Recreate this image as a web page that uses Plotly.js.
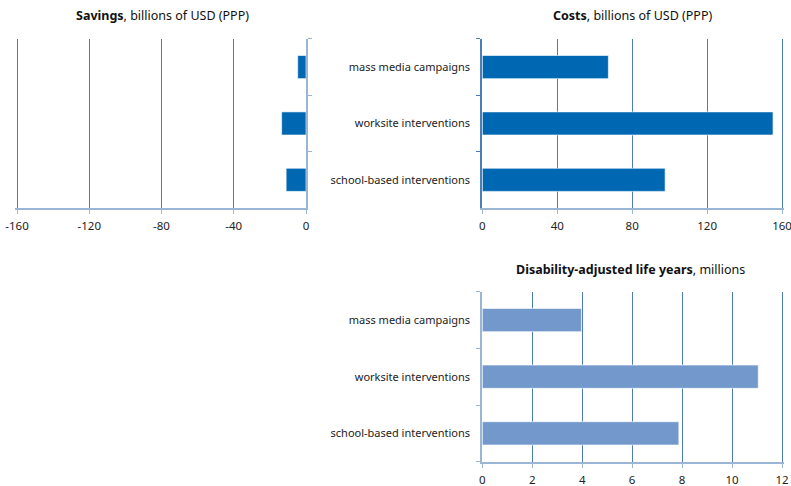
<!DOCTYPE html>
<html>
<head>
<meta charset="utf-8">
<script src="https://cdn.plot.ly/plotly-3.0.1.min.js"></script>
<style>html,body{margin:0;padding:0;background:#fff;}#chart{width:791px;height:486px;}</style>
</head>
<body>
<div id="chart"></div>
<script>
const categories = ["school-based interventions", "worksite interventions", "mass media campaigns"];
const savings = [-11, -13.5, -4.6];
const costs = [97.6, 155.2, 67.3];
const dalys = [7.87, 11.05, 3.97];
const savingsTicks = [-160, -120, -80, -40, 0];
const costsTicks = [0, 40, 80, 120, 160];
const dalyTicks = [0, 2, 4, 6, 8, 10, 12];

const FONT = "Noto Sans, Open Sans, sans-serif";
const gridC = "#4d7db8";
const axisC = "#9ab6d4";
const barDark = "#0068b3";
const barLight = "#7399cc";
const W = 791, H = 486, PADPX = 2;

function bar(x, xa, ya, color) {
  return {type: "bar", orientation: "h", y: categories, x: x, xaxis: xa, yaxis: ya,
    marker: {color: color, line: {color: "rgba(255,255,255,0.6)", width: 1}},
    hoverinfo: "x+y", showlegend: false};
}
const data = [
  bar(savings, "x", "y", barDark),
  bar(costs, "x2", "y2", barDark),
  bar(dalys, "x3", "y3", barLight)
];

// p0/p1: pixel positions of the first/last tick; pad only the end away from zero
function xax(p0, p1, ticks, anchor) {
  const r0 = ticks[0], r1 = ticks[ticks.length - 1];
  const u = (r1 - r0) / (p1 - p0);
  const padL = r0 !== 0 ? PADPX : 0, padR = r1 !== 0 ? PADPX : 0;
  return {domain: [(p0 - padL) / W, (p1 + padR) / W], range: [r0 - padL * u, r1 + padR * u],
    tickvals: ticks, ticktext: ticks.map(String),
    showgrid: true, gridcolor: gridC, gridwidth: 1, zeroline: false,
    showline: true, linecolor: axisC, linewidth: 2, ticks: "outside", ticklen: 4, tickcolor: axisC,
    ticklabelstandoff: 2, ticklabeloverflow: "allow",
    tickfont: {family: FONT, size: 11.5, color: "#222"}, anchor: anchor, fixedrange: true};
}
function yax(domain, anchor, side, showLabels, lineC) {
  return {domain: domain, type: "category", categoryarray: categories, categoryorder: "array",
    side: side, anchor: anchor, showticklabels: showLabels, tickson: "boundaries",
    ticks: "outside", ticklen: 4, tickcolor: lineC, showline: true, linecolor: lineC, linewidth: 2,
    showgrid: false, zeroline: false, ticklabelstandoff: 8,
    tickfont: {family: FONT, size: 11, color: "#222"}, fixedrange: true};
}

const layout = {
  width: W, height: H,
  margin: {l: 0, r: 0, t: 0, b: 0},
  paper_bgcolor: "#fff", plot_bgcolor: "#fff",
  bargap: 0.59,
  font: {family: FONT, color: "#222"},
  xaxis: xax(17, 306, savingsTicks, "y"),
  yaxis: yax([0.572, 0.92], "x", "right", false, axisC),
  xaxis2: xax(482.3, 782, costsTicks, "y2"),
  yaxis2: yax([0.572, 0.92], "x2", "left", true, gridC),
  xaxis3: xax(482.3, 782, dalyTicks, "y3"),
  yaxis3: yax([0.05, 0.3998], "x3", "left", true, axisC),
  annotations: [
    {text: "<b>Savings</b>, billions of USD (PPP)", x: 162, y: 15},
    {text: "<b>Costs</b>, billions of USD (PPP)", x: 632, y: 15},
    {text: "<b>Disability-adjusted life years</b>, millions", x: 630, y: 269}
  ].map(a => ({text: a.text, xref: "paper", yref: "paper", x: a.x / W, y: 1 - a.y / H,
    xanchor: "center", yanchor: "middle", showarrow: false,
    font: {family: FONT, size: 12.5, color: "#111"}}))
};

Plotly.newPlot("chart", data, layout, {displayModeBar: false, staticPlot: true});
</script>
</body>
</html>
